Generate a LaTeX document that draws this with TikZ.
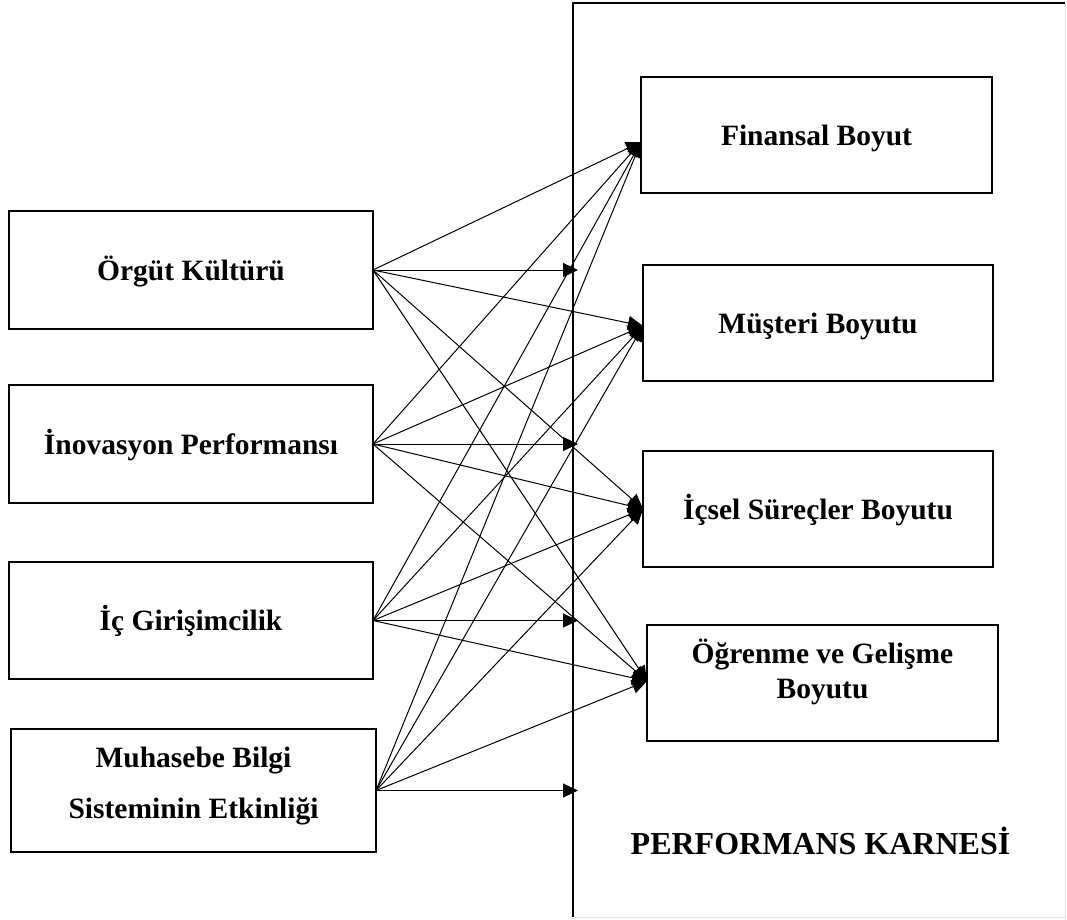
\documentclass[tikz,border=0pt]{standalone}
\usepackage{fontspec}
\setmainfont{Liberation Serif}
\usetikzlibrary{arrows.meta}
\begin{document}
\begin{tikzpicture}[x=1pt,y=-1pt,
  box/.style={draw, line width=1.1pt, rectangle, inner sep=0pt, outer sep=0pt,
    font=\fontsize{29.5}{35}\selectfont\bfseries, text height=20pt, text depth=0pt},
  lbl/.style={inner sep=0pt, font=\fontsize{29.5}{35}\selectfont\bfseries},
  conn/.style={line width=1pt, -{Triangle[length=15pt,width=14pt]}},
]
\useasboundingbox (0,0) rectangle (1067,919);

% scorecard frame
\draw[line width=1.1pt] (573,917) -- (573,3) -- (1065,3);
\draw[line width=0.8pt, black!10] (1065,3) -- (1065,917) -- (574,917);

% independent variables
\node[box, minimum width=364pt, minimum height=118pt] (L1) at (191,270) {Örgüt Kültürü};
\node[box, minimum width=364pt, minimum height=118pt] (L2) at (191,444) {İnovasyon Performansı};
\node[box, minimum width=364pt, minimum height=117pt] (L3) at (191,620.5) {İç Girişimcilik};
\node[box, minimum width=365pt, minimum height=123pt] (L4) at (193.5,790.5) {};
\node[lbl, anchor=base] (L4a) at ([yshift=23.5pt]L4.center) {Muhasebe Bilgi};
\node[lbl, anchor=base] (L4b) at ([yshift=-27.5pt]L4.center) {Sisteminin Etkinliği};

% scorecard dimensions
\node[box, minimum width=351pt, minimum height=116pt] (R1) at (816.5,135) {Finansal Boyut};
\node[box, minimum width=350pt, minimum height=116pt] (R2) at (818,323) {Müşteri Boyutu};
\node[box, minimum width=350pt, minimum height=116pt] (R3) at (818,509) {İçsel Süreçler Boyutu};
\node[box, minimum width=351pt, minimum height=116pt] (R4) at (822.5,683) {};
\node[lbl, anchor=base] (R4a) at ([yshift=20pt]R4.center) {Öğrenme ve Gelişme};
\node[lbl, anchor=base] (R4b) at ([yshift=-15pt]R4.center) {Boyutu};

\node[lbl, font=\fontsize{32}{38}\selectfont\bfseries, anchor=base] (pk) at (820.5,854) {PERFORMANS KARNESİ};

% arrow end points
\coordinate (tF) at (641,142);
\coordinate (tM) at (643,326);
\coordinate (tI) at (643,509);
\coordinate (tO) at (647,681);
\coordinate (fx) at (578,0);

\foreach \s in {L1,L2,L3,L4} {
  \draw[conn] (\s.east) -- (\s.east -| fx);
  \foreach \t in {tF,tM,tI,tO} \draw[conn] (\s.east) -- (\t);
}
\end{tikzpicture}
\end{document}
